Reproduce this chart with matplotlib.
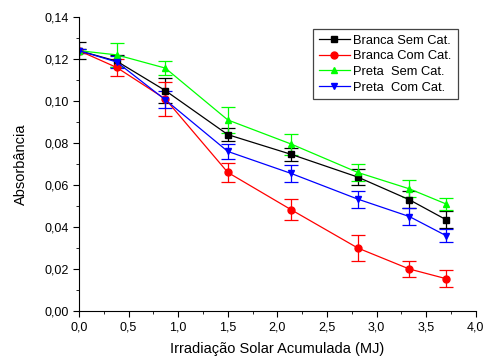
import numpy as np
import matplotlib.pyplot as plt
from matplotlib.lines import Line2D
from matplotlib.ticker import MultipleLocator, FuncFormatter

plt.rcParams['font.family'] = ['Liberation Sans', 'DejaVu Sans']

# Dados
irrad = [0.0, 0.38, 0.87, 1.50, 2.14, 2.81, 3.33, 3.70]

branca_sem = [0.124, 0.119, 0.105, 0.084, 0.0746, 0.0638, 0.053, 0.0435]
branca_sem_err = [0.004, 0.003, 0.006, 0.003, 0.003, 0.004, 0.004, 0.004]

branca_com = [0.124, 0.116, 0.101, 0.066, 0.0482, 0.030, 0.020, 0.0154]
branca_com_err = [0.001, 0.004, 0.008, 0.0046, 0.005, 0.006, 0.004, 0.004]

preta_sem = [0.124, 0.122, 0.1157, 0.091, 0.0795, 0.066, 0.0582, 0.051]
preta_sem_err = [0.001, 0.0056, 0.0035, 0.006, 0.005, 0.004, 0.004, 0.003]

preta_com = [0.124, 0.1186, 0.1006, 0.076, 0.0655, 0.0533, 0.045, 0.0359]
preta_com_err = [0.001, 0.003, 0.004, 0.0035, 0.004, 0.004, 0.004, 0.003]

series = [
    (branca_sem, branca_sem_err, 'Branca Sem Cat.', '#000000', 's'),
    (branca_com, branca_com_err, 'Branca Com Cat.', '#ff0000', 'o'),
    (preta_sem, preta_sem_err, 'Preta  Sem Cat.', '#00ff00', '^'),
    (preta_com, preta_com_err, 'Preta  Com Cat.', '#0000ff', 'v'),
]

fig = plt.figure(figsize=(4.86, 3.56), dpi=100)
ax = fig.add_axes([0.1626, 0.1264, 0.8164, 0.8256])

handles = []
for y, err, lab, cor, mk in series:
    ax.errorbar(irrad, y, yerr=err, color=cor, marker=mk, markersize=5,
                linewidth=0.9, elinewidth=0.9, capsize=5, capthick=0.9)
    handles.append(Line2D([], [], color=cor, marker=mk, markersize=5,
                          linewidth=0.9, label=lab))

ax.set_xlim(0, 4.0)
ax.set_ylim(0, 0.14)
ax.xaxis.set_major_locator(MultipleLocator(0.5))
ax.xaxis.set_minor_locator(MultipleLocator(0.25))
ax.yaxis.set_major_locator(MultipleLocator(0.02))
ax.yaxis.set_minor_locator(MultipleLocator(0.01))
ax.xaxis.set_major_formatter(FuncFormatter(lambda v, p: f'{v:.1f}'.replace('.', ',')))
ax.yaxis.set_major_formatter(FuncFormatter(lambda v, p: f'{v:.2f}'.replace('.', ',')))
ax.tick_params(which='major', direction='out', length=4, labelsize=9)
ax.tick_params(which='minor', direction='out', length=2.5)

ax.spines['top'].set_visible(False)
ax.spines['right'].set_visible(False)

ax.set_xlabel('Irradiação Solar Acumulada (MJ)', fontsize=10.5, labelpad=6)
ax.set_ylabel('Absorbância', fontsize=10.5, labelpad=12)

leg = ax.legend(handles=handles, loc='upper left', bbox_to_anchor=(0.589, 0.96),
                fontsize=9.3, fancybox=False, edgecolor='#444444', framealpha=1,
                handlelength=2.4, handletextpad=0.3, borderpad=0.45,
                labelspacing=0.28, borderaxespad=0)
leg.get_frame().set_linewidth(0.9)

fig.savefig('out.png', dpi=100)
